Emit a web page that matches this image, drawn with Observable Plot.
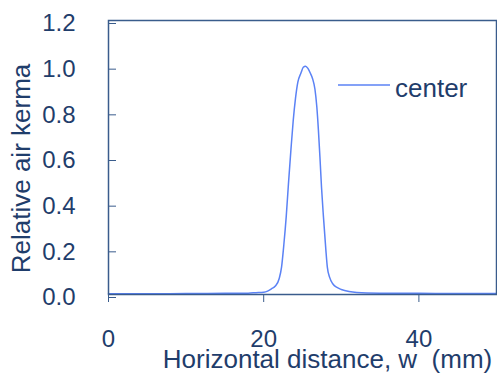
<!DOCTYPE html>
<html>
<head>
<meta charset="utf-8">
<script src="https://cdn.jsdelivr.net/npm/d3@7"></script>
<script src="https://cdn.jsdelivr.net/npm/@observablehq/plot@0.6"></script>
<style>
  html, body { margin: 0; padding: 0; background: #fff; }
  #wrap { position: relative; width: 497px; height: 374px; font-family: "Liberation Sans", Arial, sans-serif; }
  #legend-line { position: absolute; left: 338px; top: 83px; }
  #legend-text { position: absolute; left: 395px; top: 73px; color: #1f3d6b; font-size: 26px; line-height: 30px; }
</style>
</head>
<body>
<div id="wrap">
  <svg id="legend-line" width="52" height="4"><line x1="0" x2="52" y1="2" y2="2" stroke="#5b82f5" stroke-width="1.5"/></svg>
  <div id="legend-text">center</div>
</div>
<script>
// Horizontal distance (mm)
const distance = [0, 5, 10, 15, 18, 19, 20, 20.5, 21, 21.5, 22, 22.3, 22.6, 22.9, 23.2, 23.5, 23.8, 24.1, 24.4, 24.8, 25.1, 25.4, 25.7, 26.0, 26.3, 26.6, 26.85, 27.05, 27.25, 27.45, 27.7, 28.0, 28.2, 28.5, 28.9, 29.5, 30, 31, 32, 35, 40, 45, 50];
// Relative air kerma, "center" series
const center = [0.003, 0.003, 0.004, 0.005, 0.006, 0.008, 0.010, 0.015, 0.025, 0.037, 0.07, 0.12, 0.22, 0.34, 0.49, 0.63, 0.76, 0.86, 0.93, 0.97, 0.995, 1.0, 0.99, 0.97, 0.945, 0.9, 0.82, 0.72, 0.6, 0.47, 0.34, 0.2, 0.12, 0.075, 0.047, 0.03, 0.022, 0.013, 0.009, 0.006, 0.005, 0.004, 0.004];
const xTicks = [0, 20, 40];
const yTicks = [0, 0.2, 0.4, 0.6, 0.8, 1.0, 1.2];
const xLabel = "Horizontal distance, w  (mm)";
const yLabel = "Relative air kerma";

const data = distance.map((d, i) => ({x: d, y: center[i]}));
const ink = "#1f3d6b";
const frameColor = "#3a5c8c";

const chart = Plot.plot({
  width: 497,
  height: 374,
  marginLeft: 108,
  marginTop: 20,
  marginRight: 1,
  marginBottom: 80,
  style: {fontFamily: "'Liberation Sans', Arial, sans-serif", color: ink, background: "white", overflow: "visible"},
  x: {domain: [0, 50]},
  y: {domain: [0, 1.2]},
  marks: [
    Plot.axisX(xTicks, {tickSize: 8, tickPadding: 27, stroke: frameColor, fill: ink, fontSize: 24, label: null, tickFormat: d => String(d)}),
    Plot.axisY(yTicks, {tickSize: -8, tickPadding: 41, stroke: frameColor, fill: ink, fontSize: 24, label: null, dy: 3, tickFormat: d => d.toFixed(1)}),
    Plot.line(data, {x: "x", y: "y", stroke: "#5b82f5", strokeWidth: 1.5, curve: "monotone-x"}),
    Plot.frame({stroke: frameColor, strokeWidth: 1.5}),
    Plot.text([xLabel], {frameAnchor: "bottom", dx: 25, dy: 65, fontSize: 26, fill: ink, text: d => d, textAnchor: "middle", lineAnchor: "middle"}),
    Plot.text([yLabel], {frameAnchor: "left", dx: -87, dy: 11, rotate: -90, fontSize: 26, fill: ink, text: d => d, textAnchor: "middle", lineAnchor: "middle"})
  ]
});
document.getElementById("wrap").prepend(chart);
</script>
</body>
</html>
